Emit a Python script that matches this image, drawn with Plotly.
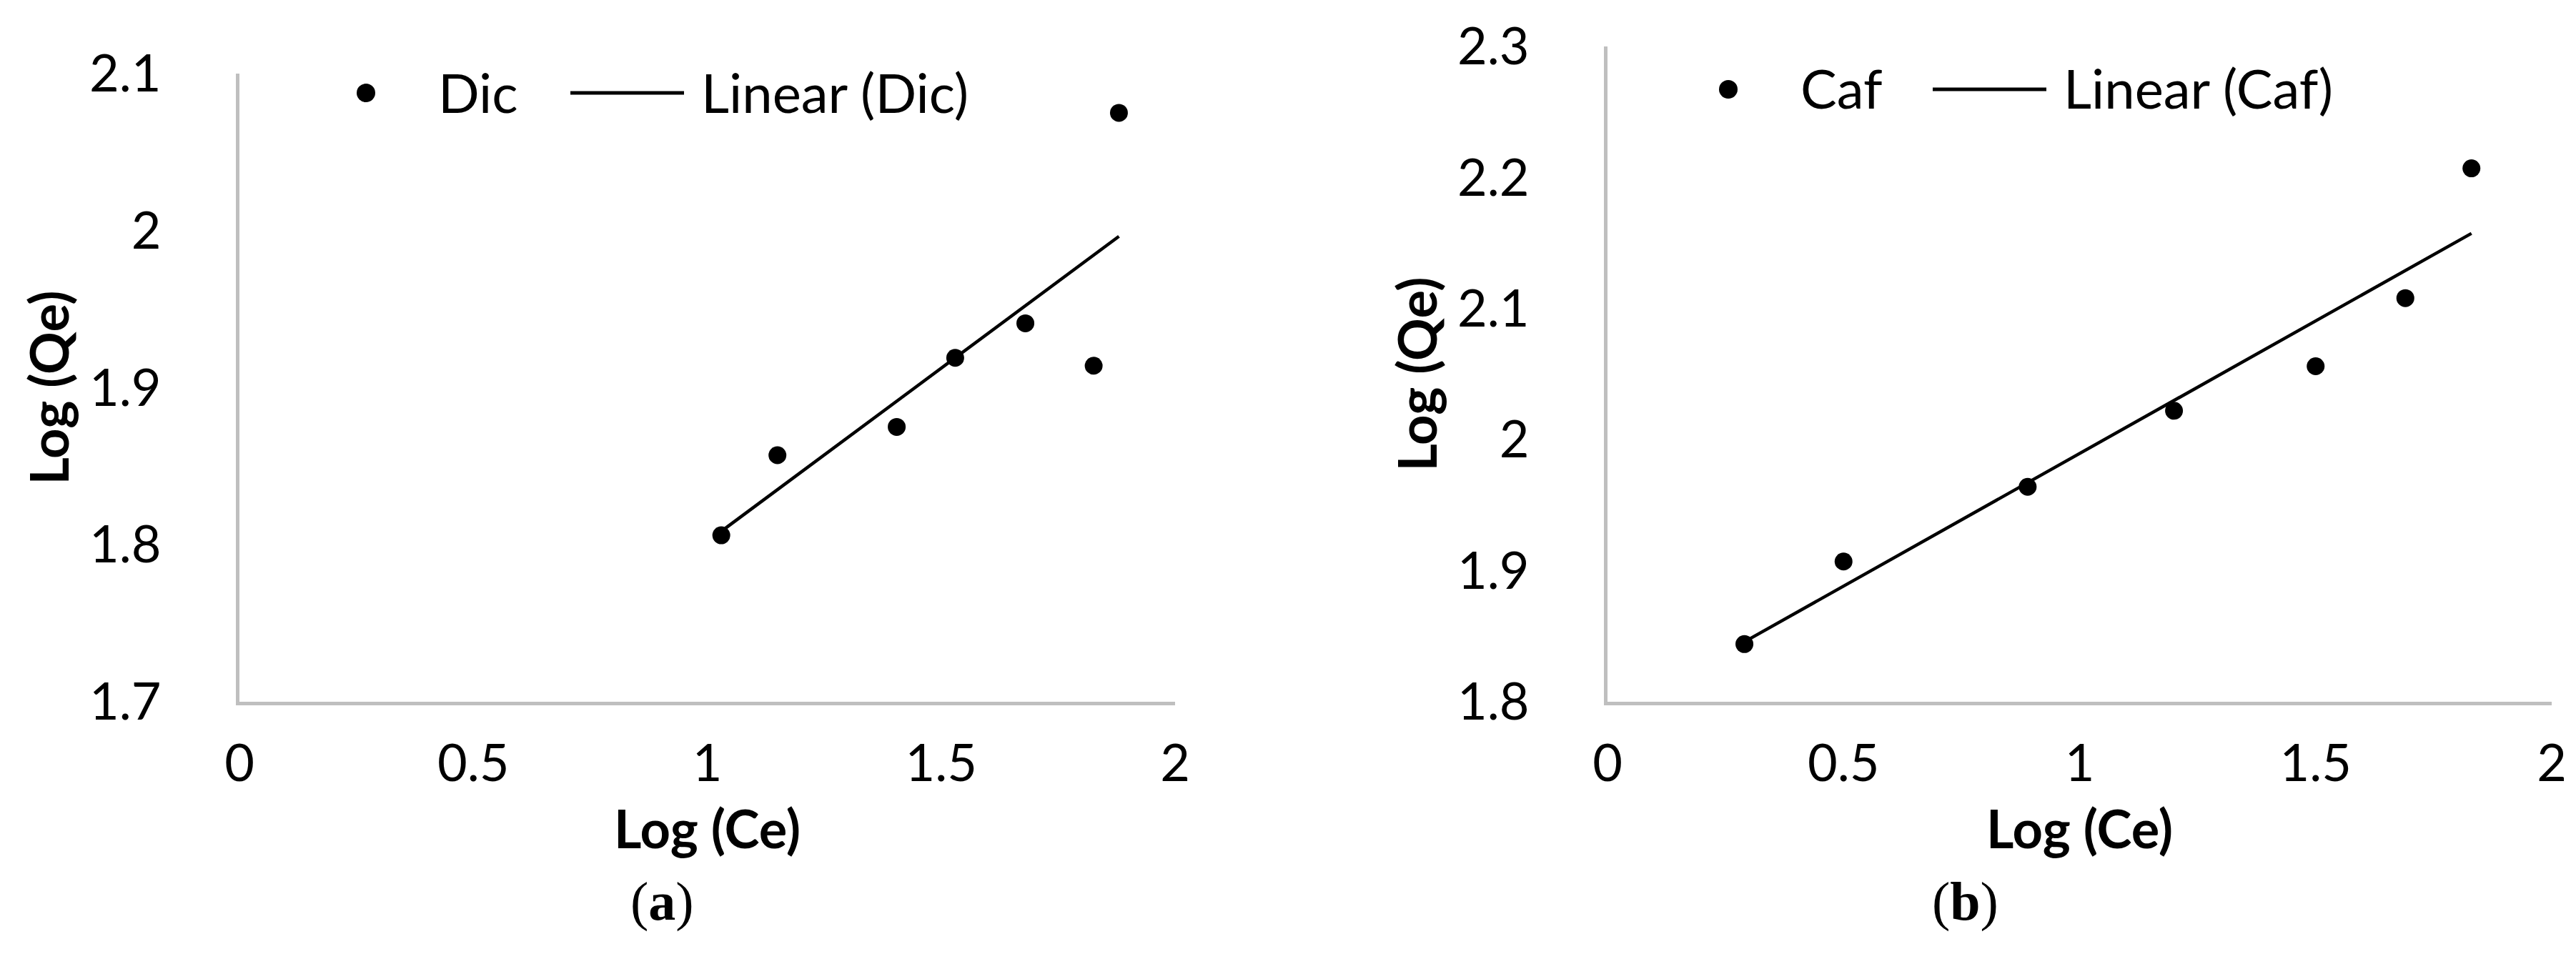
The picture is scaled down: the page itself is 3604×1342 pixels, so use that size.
import numpy as np
import plotly.graph_objects as go

# (a) Diclofenac - Freundlich plot
dic_log_ce = [1.03, 1.15, 1.405, 1.53, 1.68, 1.826, 1.88]
dic_log_qe = [1.806, 1.857, 1.875, 1.919, 1.941, 1.914, 2.075]

# (b) Caffeine - Freundlich plot
caf_log_ce = [0.29, 0.5, 0.89, 1.2, 1.5, 1.69, 1.83]
caf_log_qe = [1.844, 1.907, 1.964, 2.022, 2.056, 2.108, 2.207]

x_ticks = [0, 0.5, 1, 1.5, 2]
x_ticktext = ['0', '0.5', '1', '1.5', '2']
dic_y_ticks = [1.7, 1.8, 1.9, 2, 2.1]
dic_y_ticktext = ['1.7', '1.8', '1.9', '2', '2.1']
caf_y_ticks = [1.8, 1.9, 2, 2.1, 2.2, 2.3]
caf_y_ticktext = ['1.8', '1.9', '2', '2.1', '2.2', '2.3']

W, H = 3604, 1342
FONT = 'Lato, Noto Sans, sans-serif'
AXIS_GREY = '#BFBFBF'

# plot areas in pixels: left, right, top, bottom
PANEL_A = (327, 1636, 95, 974)
PANEL_B = (2241, 3562, 57, 974)


def trend(xs, ys):
    # least squares line over the data range, like the Excel trendline
    slope, icpt = np.polyfit(xs, ys, 1)
    xe = [min(xs), max(xs)]
    return xe, [slope * v + icpt for v in xe]


def px(x):
    return x / W


def py(y):
    return 1 - y / H


fig = go.Figure()

dx, dy = trend(dic_log_ce, dic_log_qe)
fig.add_trace(go.Scatter(x=dic_log_ce, y=dic_log_qe, mode='markers', name='Dic',
                         marker=dict(color='black', size=25), xaxis='x', yaxis='y'))
fig.add_trace(go.Scatter(x=dx, y=dy, mode='lines', name='Linear (Dic)',
                         line=dict(color='black', width=4.5), xaxis='x', yaxis='y'))

cx, cy = trend(caf_log_ce, caf_log_qe)
fig.add_trace(go.Scatter(x=caf_log_ce, y=caf_log_qe, mode='markers', name='Caf',
                         marker=dict(color='black', size=25), xaxis='x2', yaxis='y2'))
fig.add_trace(go.Scatter(x=cx, y=cy, mode='lines', name='Linear (Caf)',
                         line=dict(color='black', width=4.5), xaxis='x2', yaxis='y2'))


def xaxis(panel, anchor):
    return dict(domain=[px(panel[0]), px(panel[1])], anchor=anchor, range=[0, 2],
                tickvals=x_ticks, ticktext=x_ticktext,
                showline=True, linecolor=AXIS_GREY, linewidth=5, showgrid=False, zeroline=False,
                ticks='', ticklabelstandoff=20, automargin=False,
                tickfont=dict(family=FONT, size=72, color='black'))


def yaxis(panel, anchor, rng, vals, text):
    return dict(domain=[py(panel[3]), py(panel[2])], anchor=anchor, range=rng,
                tickvals=vals, ticktext=text,
                showline=True, linecolor=AXIS_GREY, linewidth=5, showgrid=False, zeroline=False,
                ticks='', ticklabelstandoff=90, automargin=False,
                tickfont=dict(family=FONT, size=72, color='black'),
                title=dict(text='<b>Log (Qe)</b>', standoff=6,
                           font=dict(family=FONT, size=74, color='black')))


annotations = []
shapes = []

# hand-drawn legends (Excel style: long line sample, big dot)
for panel, label, y0, shift in [(PANEL_A, 'Dic', 122, 0), (PANEL_B, 'Caf', 117, -8)]:
    left = panel[0] + shift
    mx = left + 177
    shapes.append(dict(type='circle', xref='paper', yref='paper', fillcolor='black', line_width=0,
                       x0=px(mx - 13), x1=px(mx + 13), y0=py(y0 + 13), y1=py(y0 - 13)))
    shapes.append(dict(type='line', xref='paper', yref='paper', line=dict(color='black', width=5),
                       x0=px(left + 463), x1=px(left + 622), y0=py(y0), y1=py(y0)))
    annotations.append(dict(text=label, x=px(left + 276), y=py(y0 - 2), xanchor='left', yanchor='middle',
                            xref='paper', yref='paper', showarrow=False,
                            font=dict(family=FONT, size=76, color='black')))
    annotations.append(dict(text='Linear (%s)' % label, x=px(left + 644), y=py(y0 - 2), xanchor='left',
                            yanchor='middle', xref='paper', yref='paper', showarrow=False,
                            font=dict(family=FONT, size=76, color='black')))
    # x axis title
    annotations.append(dict(text='<b>Log (Ce)</b>', x=px((panel[0] + panel[1]) / 2), y=py(1150),
                            xanchor='center', yanchor='middle', xref='paper', yref='paper',
                            showarrow=False, font=dict(family=FONT, size=74, color='black')))

# panel captions
for text, xc in [('(<b>a</b>)', 872), ('(<b>b</b>)', 2790)]:
    annotations.append(dict(text=text, x=px(xc), y=py(1298), xref='paper', yref='paper',
                            showarrow=False, font=dict(family='Liberation Serif, serif', size=76,
                                                       color='black')))

fig.update_layout(
    width=W, height=H,
    paper_bgcolor='white', plot_bgcolor='white',
    margin=dict(l=0, r=0, t=0, b=0),
    showlegend=False,
    xaxis=xaxis(PANEL_A, 'y'),
    yaxis=yaxis(PANEL_A, 'x', [1.7, 2.1], dic_y_ticks, dic_y_ticktext),
    xaxis2=xaxis(PANEL_B, 'y2'),
    yaxis2=yaxis(PANEL_B, 'x2', [1.8, 2.3], caf_y_ticks, caf_y_ticktext),
    annotations=annotations,
    shapes=shapes,
)

fig.write_html('out.html')
